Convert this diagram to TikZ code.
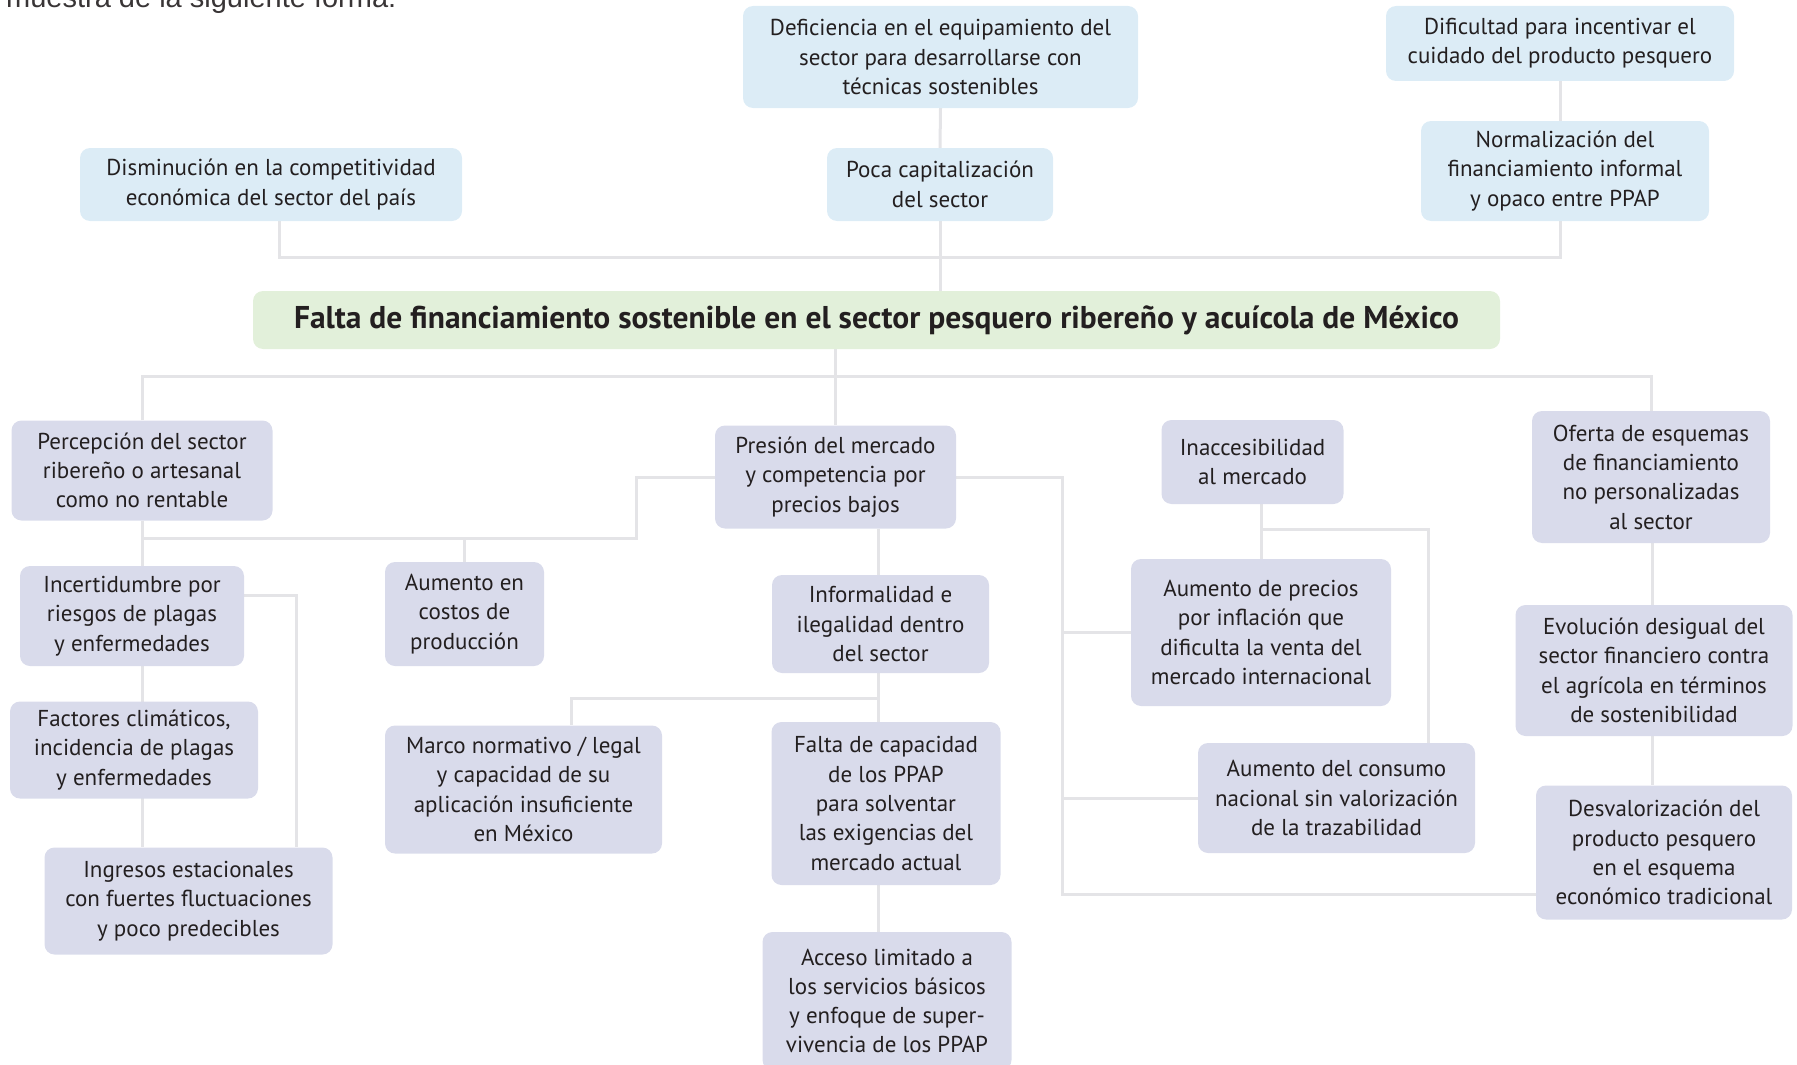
\documentclass[tikz,border=0pt]{standalone}
\usepackage{fontspec}
\setmainfont{PT Sans}
\newfontfamily\headfont{Liberation Sans}
\usetikzlibrary{backgrounds}
\definecolor{lav}{RGB}{217,219,235}
\definecolor{sky}{RGB}{220,236,246}
\definecolor{mint}{RGB}{226,240,218}
\definecolor{lineg}{RGB}{228,228,231}
\definecolor{txt}{RGB}{35,31,32}
\tikzset{
  box/.style={rounded corners=10pt, fill=lav, text=txt, align=center, inner sep=0pt,
    font=\fontsize{23}{29.3}\selectfont},
  topbox/.style={box, fill=sky},
  rootbox/.style={box, fill=mint, font=\fontsize{31.5}{36}\selectfont\bfseries},
  conn/.style={draw=lineg, line width=3pt},
}
\begin{document}
\begin{tikzpicture}[x=1pt, y=-1pt]
\useasboundingbox (0,0) rectangle (1797,1065);
\clip (0,0) rectangle (1797,1065);
% partial header text
\node[anchor=base west, inner sep=0pt, text=txt!90, font=\headfont\fontsize{29}{33}\selectfont] (head) at (6,8) {muestra de la siguiente forma:};
% top nodes
\node[topbox, minimum width=395pt, minimum height=102pt] (defi) at (940.5,57) {Deficiencia en el equipamiento del\\sector para desarrollarse con\\técnicas sostenibles};
\node[topbox, minimum width=348pt, minimum height=75pt] (difi) at (1560,43.5) {Dificultad para incentivar el\\cuidado del producto pesquero};
\node[topbox, minimum width=382pt, minimum height=73pt] (dism) at (271,184.5) {Disminución en la competitividad\\económica del sector del país};
\node[topbox, minimum width=226pt, minimum height=73pt] (poca) at (940,184.5) {Poca capitalización\\del sector};
\node[topbox, minimum width=288pt, minimum height=100pt] (norm) at (1565,171) {Normalización del\\financiamiento informal\\y opaco entre PPAP};
% root
\node[rootbox, minimum width=1247pt, minimum height=58pt] (root) at (876.5,320) {Falta de financiamiento sostenible en el sector pesquero ribereño y acuícola de México};
% left column
\node[box, minimum width=261pt, minimum height=100pt] (perc) at (142,470.5) {Percepción del sector\\ribereño o artesanal\\como no rentable};
\node[box, minimum width=224pt, minimum height=100pt] (incr) at (132,616) {Incertidumbre por\\riesgos de plagas\\y enfermedades};
\node[box, minimum width=248pt, minimum height=97pt] (fact) at (134,750) {Factores climáticos,\\incidencia de plagas\\y enfermedades};
\node[box, minimum width=288pt, minimum height=107pt] (ingr) at (188.5,901) {Ingresos estacionales\\con fuertes fluctuaciones\\y poco predecibles};
\node[box, minimum width=159pt, minimum height=104pt] (cost) at (464.5,614) {Aumento en\\costos de\\producción};
% centre column
\node[box, minimum width=241pt, minimum height=103pt] (pres) at (835.5,477) {Presión del mercado\\y competencia por\\precios bajos};
\node[box, minimum width=217pt, minimum height=98pt] (info) at (880.5,624) {Informalidad e\\ilegalidad dentro\\del sector};
\node[box, minimum width=277pt, minimum height=128pt] (marco) at (523.5,789.5) {Marco normativo / legal\\y capacidad de su\\aplicación insuficiente\\en México};
\node[box, minimum width=229pt, minimum height=163pt] (falta) at (886,803.5) {Falta de capacidad\\de los PPAP\\para solventar\\las exigencias del\\mercado actual};
\node[box, minimum width=249pt, minimum height=138pt] (acce) at (887,1001) {Acceso limitado a\\los servicios básicos\\y enfoque de super-\\vivencia de los PPAP};
% right columns
\node[box, minimum width=182pt, minimum height=84pt] (inac) at (1252.5,462) {Inaccesibilidad\\al mercado};
\node[box, minimum width=260pt, minimum height=147pt] (aprec) at (1261,632.5) {Aumento de precios\\por inflación que\\dificulta la venta del\\mercado internacional};
\node[box, minimum width=277pt, minimum height=110pt] (acons) at (1336.5,798) {Aumento del consumo\\nacional sin valorización\\de la trazabilidad};
\node[box, minimum width=238pt, minimum height=132pt] (ofer) at (1651,477) {Oferta de esquemas\\de financiamiento\\no personalizadas\\al sector};
\node[box, minimum width=277pt, minimum height=131pt] (evol) at (1654,670.5) {Evolución desigual del\\sector financiero contra\\el agrícola en términos\\de sostenibilidad};
\node[box, minimum width=256pt, minimum height=134pt] (desv) at (1664,852.5) {Desvalorización del\\producto pesquero\\en el esquema\\económico tradicional};
% helper coordinates
\coordinate (tl) at (279,257);
\coordinate (tr) at (1560,257);
\coordinate (hy) at (0,376);
\coordinate (ly) at (636,538);
\coordinate (ix) at (296,595);
\coordinate (cx) at (878,0);
\coordinate (mx) at (571,698);
\coordinate (rx) at (1062,477);
\coordinate (by) at (1062,894);
\coordinate (iy) at (1428,529);
\coordinate (ox) at (1652,0);
\begin{pgfonlayer}{background}
% top
\draw[conn] (defi.south) -- (poca.north);
\draw[conn] (poca.south) -- (poca.south |- root.north);
\draw[conn] (tl |- dism.south) -- (tl) -- (tr) -- (tr |- norm.south);
\draw[conn] (difi.south) -- (difi.south |- norm.north);
% root to level 1
\draw[conn] (pres.north |- root.south) -- (pres.north);
\draw[conn] (perc.north) -- (perc.north |- hy) -- (ofer.north |- hy) -- (ofer.north);
% left
\draw[conn] (perc.south) -- (perc.south |- ingr.north);
\draw[conn] (pres.west) -| (ly) -- (ly -| perc.south);
\draw[conn] (ly -| cost.north) -- (cost.north);
\draw[conn] (ix -| incr.east) -- (ix) -- (ix |- ingr.north);
% centre
\draw[conn] (cx |- pres.south) -- (cx |- info.north);
\draw[conn] (cx |- info.south) -- (cx |- acce.north);
\draw[conn] (cx |- mx) -- (mx) -- (mx |- marco.north);
% right
\draw[conn] (pres.east) -- (rx) -- (by) -- (by -| desv.west);
\draw[conn] (rx |- aprec.west) -- (aprec.west);
\draw[conn] (rx |- acons.west) -- (acons.west);
\draw[conn] (aprec.north |- inac.south) -- (aprec.north);
\draw[conn] (aprec.north |- iy) -- (iy) -- (iy |- acons.north);
\draw[conn] (ox |- ofer.south) -- (ox |- desv.north);
\end{pgfonlayer}
\end{tikzpicture}
\end{document}
